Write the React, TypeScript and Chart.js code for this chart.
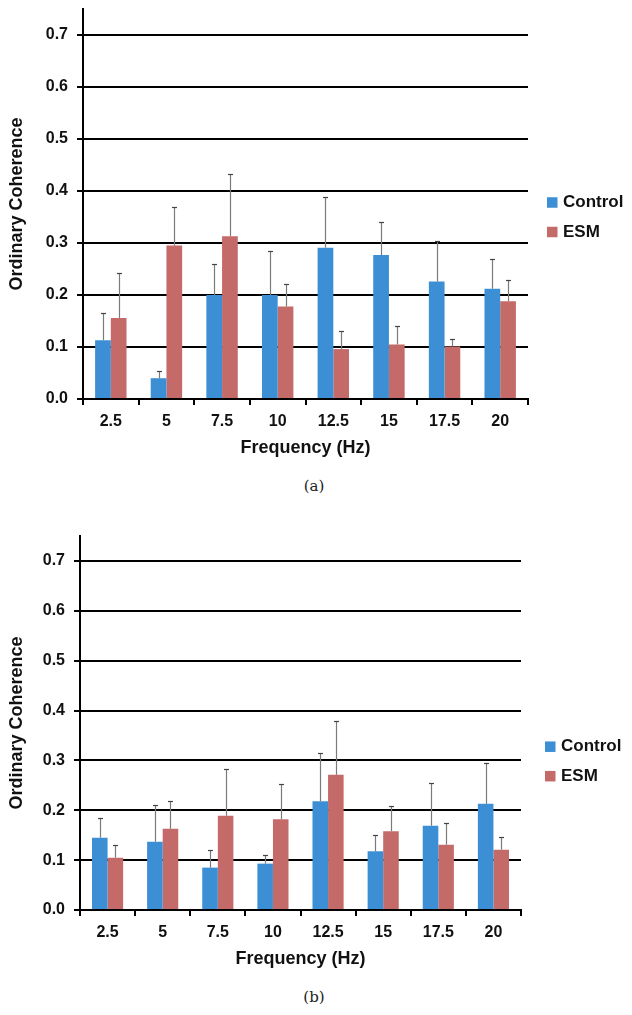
import React, { useEffect, useRef } from "react";
import { Chart, registerables } from "chart.js";

Chart.register(...registerables);

// ---------- data ----------
const categories = ["2.5", "5", "7.5", "10", "12.5", "15", "17.5", "20"];
const seriesNames = ["Control", "ESM"];

// Panel (a)
const controlA = [0.113, 0.04, 0.2, 0.2, 0.291, 0.277, 0.226, 0.212];
const controlErrA = [0.052, 0.014, 0.059, 0.084, 0.098, 0.063, 0.077, 0.058];
const esmA = [0.156, 0.295, 0.313, 0.178, 0.096, 0.105, 0.101, 0.188];
const esmErrA = [0.086, 0.075, 0.119, 0.044, 0.035, 0.036, 0.014, 0.04];

// Panel (b)
const controlB = [0.145, 0.137, 0.085, 0.093, 0.218, 0.118, 0.169, 0.213];
const controlErrB = [0.039, 0.074, 0.036, 0.017, 0.097, 0.032, 0.086, 0.081];
const esmB = [0.105, 0.163, 0.189, 0.182, 0.271, 0.158, 0.131, 0.121];
const esmErrB = [0.026, 0.055, 0.094, 0.071, 0.108, 0.051, 0.044, 0.026];

const yMin = 0;
const yMax = 0.75;
const yStep = 0.1;
const xTitle = "Frequency (Hz)";
const yTitle = "Ordinary Coherence";

// ---------- styles ----------
const FONT = "'Liberation Sans', Arial, sans-serif";
const BLUE = "#3c8fd4";
const RED = "#c46a68";
const TEXT = "#111111";

const errorBarPlugin = {
  id: "errorBars",
  afterDatasetsDraw(chart: any) {
    const ctx = chart.ctx;
    const yScale = chart.scales.y;
    ctx.save();
    chart.data.datasets.forEach((ds: any, di: number) => {
      const meta = chart.getDatasetMeta(di);
      meta.data.forEach((el: any, i: number) => {
        const v = ds.data[i];
        const e = ds.errors[i];
        const top = Math.round(yScale.getPixelForValue(v + e)) + 0.5;
        const x = Math.round(el.x) + 0.5;
        ctx.strokeStyle = "#7a7a7a";
        ctx.lineWidth = 1.2;
        ctx.beginPath();
        ctx.moveTo(x, el.y);
        ctx.lineTo(x, top);
        ctx.stroke();
        ctx.strokeStyle = "#444";
        ctx.beginPath();
        ctx.moveTo(x - 2.5, top);
        ctx.lineTo(x + 2.5, top);
        ctx.stroke();
      });
    });
    ctx.restore();
  },
};

const boxLegendPlugin = {
  id: "boxLegend",
  afterDraw(chart: any, _args: any, opts: any) {
    const ctx = chart.ctx;
    ctx.save();
    chart.data.datasets.forEach((ds: any, i: number) => {
      const y = opts.y + i * opts.gap;
      ctx.fillStyle = ds.backgroundColor;
      ctx.fillRect(opts.x, y - opts.box / 2, opts.box, opts.box);
      ctx.fillStyle = TEXT;
      ctx.font = `bold ${opts.size}px ${FONT}`;
      ctx.textBaseline = "middle";
      ctx.textAlign = "left";
      ctx.fillText(ds.label, opts.x + opts.textOffset, y);
    });
    ctx.restore();
  },
};

type PanelProps = {
  top: number;
  control: number[];
  controlErr: number[];
  esm: number[];
  esmErr: number[];
  chartLeft: number;
  chartRight: number;
  chartTop: number;
  chartBottom: number;
  legendX: number;
  legendY: number;
  caption: string;
  captionY: number;
};

const X_AXIS_H = 71;
const W = 632;

function Panel(p: PanelProps) {
  const ref = useRef<HTMLCanvasElement | null>(null);
  const height = p.chartBottom + X_AXIS_H;

  useEffect(() => {
    if (!ref.current) return;
    const chart = new Chart(ref.current, {
      type: "bar",
      data: {
        labels: categories,
        datasets: [
          {
            label: seriesNames[0],
            data: p.control,
            errors: p.controlErr,
            backgroundColor: BLUE,
            barPercentage: 1,
            categoryPercentage: 0.565,
          } as any,
          {
            label: seriesNames[1],
            data: p.esm,
            errors: p.esmErr,
            backgroundColor: RED,
            barPercentage: 1,
            categoryPercentage: 0.565,
          } as any,
        ],
      },
      options: {
        animation: false,
        responsive: false,
        devicePixelRatio: 1,
        layout: {
          padding: { left: 0, right: W - p.chartRight, top: p.chartTop, bottom: 0 },
        },
        plugins: {
          legend: { display: false },
          tooltip: { enabled: false },
          boxLegend: { x: p.legendX, y: p.legendY, gap: 29.5, box: 10.5, textOffset: 16, size: 17 },
        } as any,
        scales: {
          x: {
            ticks: { font: { family: FONT, size: 16, weight: "bold" }, color: TEXT, padding: 7 },
            grid: {
              offset: true,
              drawOnChartArea: false,
              drawTicks: true,
              tickLength: 6,
              color: "#000",
              lineWidth: 2,
            },
            border: { display: true, color: "#000", width: 2 },
            title: {
              display: true,
              text: xTitle,
              color: TEXT,
              font: { family: FONT, size: 18, weight: "bold" },
              padding: { top: 0, bottom: 11 },
            },
            afterFit: (s: any) => {
              s.height = X_AXIS_H;
              s.paddingLeft = 0;
              s.paddingRight = 0;
            },
          },
          y: {
            min: yMin,
            max: yMax,
            ticks: {
              stepSize: yStep,
              includeBounds: false,
              callback: (v: any) => Number(v).toFixed(1),
              font: { family: FONT, size: 16, weight: "bold" },
              color: TEXT,
              padding: 9,
            },
            grid: { color: "#000", lineWidth: 2, tickLength: 6, drawTicks: true },
            border: { display: true, color: "#000", width: 2 },
            title: {
              display: true,
              text: yTitle,
              color: TEXT,
              font: { family: FONT, size: 18, weight: "bold" },
              padding: { top: 6, bottom: 0 },
            },
            afterFit: (s: any) => {
              s.width = p.chartLeft;
              s.paddingTop = 0;
              s.paddingBottom = 0;
            },
          },
        },
      },
      plugins: [errorBarPlugin, boxLegendPlugin],
    });
    return () => chart.destroy();
  }, []);

  return (
    <>
      <canvas
        ref={ref}
        width={W}
        height={height}
        style={{ position: "absolute", left: 0, top: p.top, width: W, height }}
      />
      <div
        style={{
          position: "absolute",
          left: 0,
          width: 628,
          top: p.captionY - 8,
          lineHeight: "16px",
          textAlign: "center",
          fontFamily: "'DejaVu Serif', serif",
          fontSize: 15,
          color: "#222",
        }}
      >
        {p.caption}
      </div>
    </>
  );
}

export default function App() {
  return (
    <div style={{ position: "absolute", left: 0, top: 0, width: W, height: 1015, background: "#fff" }}>
      <Panel
        top={0}
        control={controlA}
        controlErr={controlErrA}
        esm={esmA}
        esmErr={esmErrA}
        chartLeft={83}
        chartRight={528}
        chartTop={9}
        chartBottom={399}
        legendX={547}
        legendY={202.5}
        caption="(a)"
        captionY={486}
      />
      <Panel
        top={520}
        control={controlB}
        controlErr={controlErrB}
        esm={esmB}
        esmErr={esmErrB}
        chartLeft={80}
        chartRight={521}
        chartTop={16}
        chartBottom={390}
        legendX={545}
        legendY={226.7}
        caption="(b)"
        captionY={996.5}
      />
    </div>
  );
}
